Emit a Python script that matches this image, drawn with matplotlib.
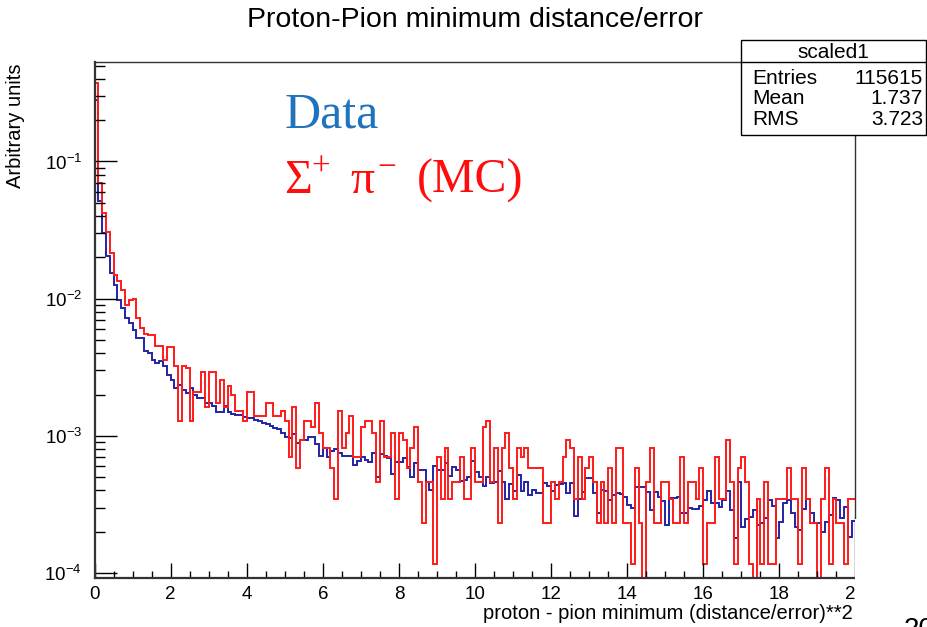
import numpy as np
import matplotlib
matplotlib.use("Agg")
import matplotlib.pyplot as plt
from matplotlib.patches import Rectangle
from matplotlib.lines import Line2D
from matplotlib.ticker import MultipleLocator, LogLocator, NullFormatter

plt.rcParams['font.family'] = ['Liberation Sans', 'DejaVu Sans']
plt.rcParams['mathtext.fontset'] = 'custom'
plt.rcParams['mathtext.rm'] = 'Liberation Sans'
plt.rcParams['mathtext.it'] = 'Liberation Sans:italic'
plt.rcParams['mathtext.default'] = 'regular'

# binning of the histogram: 200 bins of 0.1 on [0, 20]
n_bins, x_lo, x_hi = 200, 0.0, 20.0

# Data histogram, bin contents in units of 1e-3
data_e3 = [
    280, 51.3, 30.2, 20.4, 15.4, 12.6, 9.84, 8.55, 7.23, 6.65,
    5.94, 5.16, 5.16, 4.13, 4.01, 3.59, 3.40, 3.49, 3.21, 2.79,
    2.56, 2.23, 2.36, 2.17, 2.05, 2.23, 1.99, 1.88, 1.88, 1.73,
    1.73, 1.64, 1.50, 1.50, 1.64, 1.50, 1.45, 1.42, 1.42, 1.38,
    1.36, 1.34, 1.30, 1.28, 1.25, 1.22, 1.18, 1.15, 1.12, 1.05,
    0.98, 0.96, 1.03, 0.88, 0.935, 0.935, 0.98, 0.98, 0.87, 0.715,
    0.81, 0.707, 0.77, 0.80, 0.75, 0.715, 0.715, 0.715, 0.614, 0.66,
    0.707, 0.668, 0.64, 0.756, 0.505, 0.739, 0.715, 0.688, 0.528, 0.643,
    0.643, 0.688, 0.597, 0.505, 0.632, 0.565, 0.565, 0.459, 0.403, 0.604,
    0.565, 0.565, 0.632, 0.513, 0.597, 0.565, 0.472, 0.477, 0.505, 0.66,
    0.549, 0.505, 0.434, 0.505, 0.452, 0.464, 0.558, 0.46, 0.345, 0.446,
    0.397, 0.519, 0.397, 0.464, 0.371, 0.403, 0.386, 0.386, 0.452, 0.434,
    0.397, 0.439, 0.446, 0.456, 0.386, 0.452, 0.262, 0.345, 0.388, 0.491,
    0.491, 0.382, 0.272, 0.403, 0.397, 0.341, 0.371, 0.386, 0.375, 0.360,
    0.313, 0.296, 0.427, 0.427, 0.427, 0.388, 0.288, 0.388, 0.36, 0.336,
    0.224, 0.35, 0.35, 0.36, 0.276, 0.272, 0.30, 0.293, 0.293, 0.308,
    0.341, 0.397, 0.322, 0.322, 0.302, 0.341, 0.397, 0.288, 0.181, 0.464,
    0.218, 0.248, 0.258, 0.288, 0.224, 0.233, 0.251, 0.341, 0.31, 0.179,
    0.237, 0.322, 0.341, 0.272, 0.218, 0.206, 0.292, 0.345, 0.272, 0.233,
    0.233, 0.20, 0.237, 0.265, 0.354, 0.341, 0.251, 0.302, 0.182, 0.241,
]

# MC (Sigma+ pi-) histogram: weighted entries, each entry = mc_weight
mc_weight = 1.16e-4
mc_counts = [
    3233, 603, 364, 263, 184, 129, 116, 100, 78, 84,
    85, 62, 53, 48, 47, 47, 39, 39, 31, 38,
    38, 28, 11, 28, 27, 11, 18, 18, 25, 14,
    25, 25, 15, 22, 14, 20, 17, 13, 13, 11,
    18, 18, 12, 12, 12, 15, 15, 12, 12, 13,
    11, 6, 14, 5, 8, 11, 11, 10, 15, 9,
    7, 7, 5, 3, 13, 7, 9, 12, 6, 6,
    10, 11, 11, 9, 4, 11, 6, 6, 9, 3,
    9, 8, 5, 7, 10, 4, 2, 4, 4, 1,
    6, 3, 7, 3, 4, 4, 6, 3, 3, 7,
    4, 4, 10, 11, 4, 7, 2, 7, 9, 5,
    3, 7, 6, 7, 5, 5, 5, 5, 2, 2,
    4, 3, 4, 6, 8, 7, 3, 6, 3, 5,
    6, 4, 2, 4, 2, 5, 2, 7, 7, 2,
    2, 1, 5, 2, 0, 4, 7, 2, 2, 4,
    4, 3, 2, 2, 6, 2, 4, 4, 3, 5,
    1, 2, 2, 6, 3, 3, 8, 4, 1, 5,
    6, 4, 1, 0, 3, 1, 4, 1, 1, 3,
    3, 3, 5, 3, 3, 1, 5, 3, 2, 2,
    0, 3, 5, 1, 3, 2, 2, 1, 3, 3,
]

title = "Proton-Pion minimum distance/error"
x_title = "proton - pion minimum (distance/error)**2"
y_title = "Arbitrary units"
stats_name = "scaled1"
stats_rows = [("Entries", "115615"), ("Mean", "1.737"), ("RMS", "3.723")]

W, H = 928, 627


def fx(px):
    return px / W


def fy(py):
    return 1 - py / H


edges = np.linspace(x_lo, x_hi, n_bins + 1)
data_vals = np.array(data_e3) * 1e-3
mc_vals = np.array(mc_counts) * mc_weight
mc_vals = np.where(mc_vals > 0, mc_vals, 1e-9)  # empty bins drop to the floor

fig = plt.figure(figsize=(W / 100, H / 100), dpi=100)
ax = fig.add_axes([fx(94.5), fy(578), (855.5 - 94.5) / W, (578 - 62) / H])

ax.stairs(data_vals, edges, color='#2424a6', lw=1.4, baseline=None)
ax.stairs(mc_vals, edges, color='#ff1a1a', lw=1.4, baseline=None)

ax.set_yscale('log')
ax.set_xlim(x_lo, x_hi)
ax.set_ylim(9.2e-5, 0.531)

ax.xaxis.set_major_locator(MultipleLocator(2))
ax.xaxis.set_minor_locator(MultipleLocator(0.5))
ax.yaxis.set_major_locator(LogLocator(base=10))
ax.yaxis.set_minor_locator(LogLocator(base=10, subs=np.arange(2, 10)))
ax.yaxis.set_minor_formatter(NullFormatter())

ax.tick_params(axis='both', which='both', direction='in', color='black',
               width=1.0, labelsize=13.5)
ax.tick_params(axis='y', which='major', length=16, pad=9)
ax.tick_params(axis='y', which='minor', length=7.5)
ax.tick_params(axis='x', which='major', length=11, pad=6)
ax.tick_params(axis='x', which='minor', length=5)

for side in ['left', 'bottom']:
    ax.spines[side].set_linewidth(1.6)
    ax.spines[side].set_color('#333333')
for side in ['top', 'right']:
    ax.spines[side].set_linewidth(1.0)
    ax.spines[side].set_color('#333333')

ax.set_title(title, fontsize=20.5, pad=25)
ax.set_xlabel(x_title, fontsize=14.5, loc='right')
ax.xaxis.set_label_coords(1 - 2.5 / 761, -(604 - 578) / 516)
ax.set_ylabel(y_title, fontsize=14.5, loc='top')
ax.yaxis.set_label_coords((25 - 94.5) / 761, 1 - 1 / 516)

# legend-like annotations
fig.text(fx(285), fy(127), "Data", color='#1f74bd', fontsize=36,
         family='Liberation Serif', va='baseline')
serif = dict(color='#ff0d0d', family=['Liberation Serif', 'DejaVu Serif'], va='baseline')
fig.text(fx(284), fy(193), "\u03a3", fontsize=34.5, **serif)
fig.text(fx(311), fy(176), "+", fontsize=24, **serif)
fig.text(fx(350), fy(193), "\u03c0", fontsize=34.5, **serif)
fig.text(fx(377), fy(176), "\u2212", fontsize=24, **serif)
fig.text(fx(417), fy(193), "(MC)", fontsize=34.5, **serif)

# lower right corner of the canvas is cut off in the original
fig.add_artist(Rectangle((fx(855), fy(612)), (W - 855) / W, (612 - 519) / H,
                         transform=fig.transFigure, fc='white', ec='none', zorder=4))

# stats box
bx0, bx1, by0, by1, bsep = 741, 926, 40, 135, 62
fig.add_artist(Rectangle((fx(bx0), fy(by1)), (bx1 - bx0) / W, (by1 - by0) / H,
                         transform=fig.transFigure, fc='white', ec='black', lw=1.0, zorder=5))
fig.add_artist(Line2D([fx(bx0), fx(bx1)], [fy(bsep), fy(bsep)],
                      transform=fig.transFigure, color='black', lw=1.0, zorder=6))
fig.text(fx((bx0 + bx1) / 2), fy(53), stats_name, fontsize=15, ha='center', va='center', zorder=7)
for i, (name, val) in enumerate(stats_rows):
    yy = 79 + i * 20
    fig.text(fx(752), fy(yy), name, fontsize=15, ha='left', va='center', zorder=7)
    fig.text(fx(923), fy(yy), val, fontsize=15, ha='right', va='center', zorder=7)

# page number peeking in at the bottom edge
fig.text(fx(904), fy(617), "20", fontsize=20, ha='left', va='top')

fig.savefig("out.png", dpi=100)
